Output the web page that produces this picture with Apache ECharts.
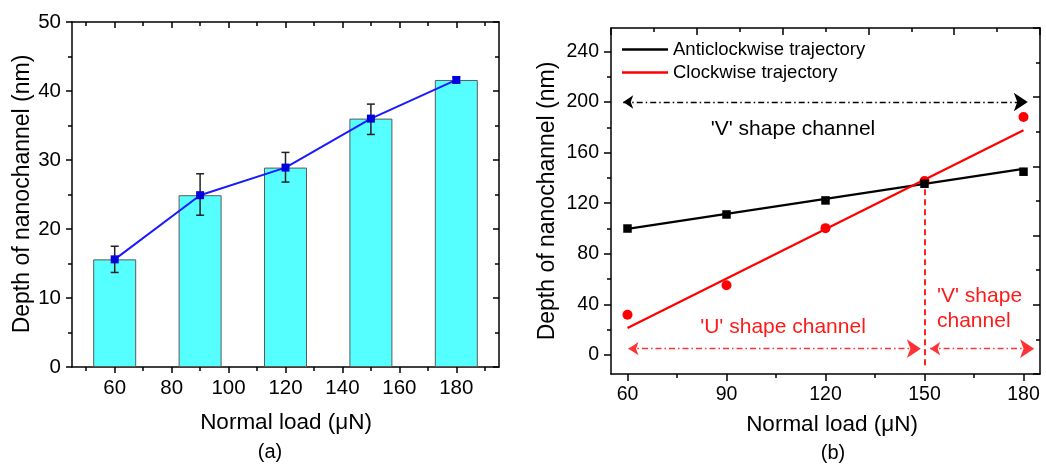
<!DOCTYPE html>
<html>
<head>
<meta charset="utf-8">
<script src="https://cdn.jsdelivr.net/npm/echarts@6/dist/echarts.min.js"></script>
<style>
html,body{margin:0;padding:0;background:#fff;}
#c{width:1046px;height:464px;}
</style>
</head>
<body>
<div id="c"></div>
<script>
// ---------- Panel (a) data ----------
const loadsA = [60, 90, 120, 150, 180];
const depthA = [15.6, 24.9, 28.9, 36.0, 41.6];
const errLowA = [13.7, 22.0, 26.8, 33.7, 41.2];
const errHighA = [17.5, 28.0, 31.1, 38.1, 42.0];
const xMajorA = [60, 80, 100, 120, 140, 160, 180];
const xMinorA = [50, 70, 90, 110, 130, 150, 170, 190];

// ---------- Panel (b) data ----------
const loadsB = [60, 90, 120, 150, 180];
const antiB = [100.0, 111.1, 122.2, 135.4, 144.9];
const clockB = [31.9, 55.1, 100.3, 137.5, 188.1];
const fitX = [60, 180];
const antiFit = [99.7, 147.2];
const clockFit = [21.4, 177.6];
const xMajorB = [60, 90, 120, 150, 180];
const xMinorB = [75, 105, 135, 165];
const yMajorB = [0, 40, 80, 120, 160, 200, 240];
const yMinorB = [20, 60, 100, 140, 180, 220];

// annotation anchors (data coords of panel b)
const vArrowAll = [[58.7, 200], [181.3, 200]];
const uArrowLeft = [[60.3, 5], [148.9, 5]];
const vArrowRight = [[151.7, 5], [183.2, 5]];
const splitLine150 = [[150, 139], [150, -9]];

const FF = "'Liberation Sans', Arial, sans-serif";
const chart = echarts.init(document.getElementById('c'), null, {renderer: 'canvas'});

const lineBlk = {color: '#000', width: 1.5};
function xAx(grid, min, max, pos, ticks, len, inside, showLine, labels, fs, margin) {
  return {
    gridIndex: grid, type: 'value', min: min, max: max, position: pos,
    axisLine: {show: showLine, onZero: false, lineStyle: lineBlk},
    axisTick: {show: true, customValues: ticks, length: len, inside: inside, lineStyle: lineBlk},
    axisLabel: labels ? {show: true, customValues: ticks, fontSize: fs, color: '#000', fontFamily: FF, margin: margin} : {show: false},
    splitLine: {show: false}
  };
}

const option = {
  animation: false,
  backgroundColor: '#fff',
  grid: [
    {left: 72, top: 22, width: 427, height: 345},
    {left: 611, top: 28, width: 429, height: 346}
  ],
  xAxis: [
    xAx(0, 45, 195, 'bottom', xMajorA, 6, false, true, true, 20.5, 11),
    xAx(0, 45, 195, 'bottom', xMinorA, 4, false, false, false),
    xAx(0, 45, 195, 'top', xMajorA, 6, true, true, false),
    xAx(0, 45, 195, 'top', xMinorA, 4, true, false, false),
    xAx(1, 55, 185, 'bottom', xMajorB, 7, false, true, true, 19.5, 11),
    xAx(1, 55, 185, 'bottom', xMinorB, 4, false, false, false),
    {gridIndex: 1, type: 'value', min: 0, max: 10, interval: 2, position: 'top',
     axisLine: {show: true, onZero: false, lineStyle: lineBlk},
     axisTick: {show: true, inside: true, length: 7, lineStyle: lineBlk},
     minorTick: {show: true, splitNumber: 2, length: 4, lineStyle: lineBlk},
     axisLabel: {show: false}, splitLine: {show: false}, minorSplitLine: {show: false}}
  ],
  yAxis: [
    {gridIndex: 0, type: 'value', min: 0, max: 50, interval: 10, position: 'left',
     axisLine: {show: true, onZero: false, lineStyle: lineBlk},
     axisTick: {show: true, length: 6, lineStyle: lineBlk},
     minorTick: {show: true, splitNumber: 2, length: 4, lineStyle: lineBlk},
     axisLabel: {fontSize: 20.5, color: '#000', fontFamily: FF, margin: 11},
     splitLine: {show: false}, minorSplitLine: {show: false}},
    {gridIndex: 0, type: 'value', min: 0, max: 50, interval: 10, position: 'right',
     axisLine: {show: true, onZero: false, lineStyle: lineBlk},
     axisTick: {show: true, inside: true, length: 6, lineStyle: lineBlk},
     minorTick: {show: true, splitNumber: 2, length: 4, lineStyle: lineBlk},
     axisLabel: {show: false}, splitLine: {show: false}, minorSplitLine: {show: false}},
    {gridIndex: 1, type: 'value', min: -15, max: 258.5, position: 'left',
     axisLine: {show: true, onZero: false, lineStyle: lineBlk},
     axisTick: {show: true, customValues: yMajorB, length: 7, lineStyle: lineBlk},
     axisLabel: {show: true, customValues: yMajorB, fontSize: 19.5, color: '#000', fontFamily: FF, margin: 12},
     splitLine: {show: false}},
    {gridIndex: 1, type: 'value', min: -15, max: 258.5, position: 'left',
     axisLine: {show: false, onZero: false},
     axisTick: {show: true, customValues: yMinorB, length: 4, lineStyle: lineBlk},
     axisLabel: {show: false}, splitLine: {show: false}},
    {gridIndex: 1, type: 'value', min: 0, max: 10, interval: 2, position: 'right',
     axisLine: {show: true, onZero: false, lineStyle: lineBlk},
     axisTick: {show: true, inside: true, length: 7, lineStyle: lineBlk},
     minorTick: {show: true, splitNumber: 2, length: 4, lineStyle: lineBlk},
     axisLabel: {show: false}, splitLine: {show: false}, minorSplitLine: {show: false}}
  ],
  legend: {
    orient: 'vertical', left: 617, top: 35, itemWidth: 46, itemHeight: 2.5, itemGap: 4,
    icon: 'rect',
    data: ['Anticlockwise trajectory', 'Clockwise trajectory'],
    textStyle: {fontSize: 18.5, color: '#000', fontFamily: FF},
    selectedMode: false
  },
  series: [
    {type: 'bar', xAxisIndex: 0, yAxisIndex: 0, barWidth: 43, z: 2,
     data: loadsA.map((x, i) => [x, depthA[i]]),
     itemStyle: {color: '#55ffff', borderColor: '#5a5a5a', borderWidth: 1}},
    {type: 'custom', xAxisIndex: 0, yAxisIndex: 0, z: 3,
     data: loadsA.map((x, i) => [x, errLowA[i], errHighA[i]]),
     renderItem: function (params, api) {
       const lo = api.coord([api.value(0), api.value(1)]);
       const hi = api.coord([api.value(0), api.value(2)]);
       const w = 4;
       const st = {stroke: '#222', lineWidth: 1.5};
       return {type: 'group', children: [
         {type: 'line', shape: {x1: lo[0], y1: lo[1], x2: hi[0], y2: hi[1]}, style: st},
         {type: 'line', shape: {x1: lo[0] - w, y1: lo[1], x2: lo[0] + w, y2: lo[1]}, style: st},
         {type: 'line', shape: {x1: hi[0] - w, y1: hi[1], x2: hi[0] + w, y2: hi[1]}, style: st}
       ]};
     }},
    {type: 'line', xAxisIndex: 0, yAxisIndex: 0, z: 4,
     data: loadsA.map((x, i) => [x, depthA[i]]),
     symbol: 'rect', symbolSize: 8,
     itemStyle: {color: '#0000dd'},
     lineStyle: {color: '#1a1aff', width: 2}},

    {name: 'Anticlockwise trajectory', type: 'line', xAxisIndex: 4, yAxisIndex: 2, z: 3,
     data: fitX.map((x, i) => [x, antiFit[i]]), symbol: 'none',
     itemStyle: {color: '#000'}, lineStyle: {color: '#000', width: 2.2}},
    {name: 'Clockwise trajectory', type: 'line', xAxisIndex: 4, yAxisIndex: 2, z: 3,
     data: fitX.map((x, i) => [x, clockFit[i]]), symbol: 'none',
     itemStyle: {color: '#ff0000'}, lineStyle: {color: '#ff0000', width: 2.2}},
    {type: 'scatter', xAxisIndex: 4, yAxisIndex: 2, z: 4,
     data: loadsB.map((x, i) => [x, clockB[i]]), symbol: 'circle', symbolSize: 10,
     itemStyle: {color: '#ff0000', opacity: 1}},
    {type: 'scatter', xAxisIndex: 4, yAxisIndex: 2, z: 5,
     data: loadsB.map((x, i) => [x, antiB[i]]), symbol: 'rect', symbolSize: 8.5,
     itemStyle: {color: '#000', opacity: 1}},
    {type: 'lines', coordinateSystem: 'cartesian2d', xAxisIndex: 4, yAxisIndex: 2, z: 3,
     symbol: ['arrow', 'arrow'], symbolSize: [10, 14],
     lineStyle: {color: '#000', width: 1.3, type: [6, 3, 1.5, 3], opacity: 1},
     data: [{coords: vArrowAll}]},
    {type: 'lines', coordinateSystem: 'cartesian2d', xAxisIndex: 4, yAxisIndex: 2, z: 3,
     symbol: ['arrow', 'arrow'], symbolSize: [10, 14],
     lineStyle: {color: '#ff3333', width: 1.3, type: [6, 3, 1.5, 3], opacity: 1},
     data: [{coords: uArrowLeft}, {coords: vArrowRight}]},
    {type: 'lines', coordinateSystem: 'cartesian2d', xAxisIndex: 4, yAxisIndex: 2, z: 3,
     symbol: ['none', 'none'],
     lineStyle: {color: '#ff2222', width: 2, type: [6, 4], opacity: 1},
     data: [{coords: splitLine150}]}
  ],
  graphic: [
    {type: 'text', x: 23, y: 194, rotation: Math.PI / 2,
     style: {text: 'Depth of nanochannel (nm)', font: '23px ' + FF, fill: '#000', align: 'center', verticalAlign: 'middle'}},
    {type: 'text', x: 286, y: 423,
     style: {text: 'Normal load (μN)', font: '22.5px ' + FF, fill: '#000', align: 'center', verticalAlign: 'middle'}},
    {type: 'text', x: 270, y: 452,
     style: {text: '(a)', font: '20px ' + FF, fill: '#000', align: 'center', verticalAlign: 'middle'}},
    {type: 'text', x: 548, y: 201, rotation: Math.PI / 2,
     style: {text: 'Depth of nanochannel (nm)', font: '23px ' + FF, fill: '#000', align: 'center', verticalAlign: 'middle'}},
    {type: 'text', x: 832, y: 425,
     style: {text: 'Normal load (μN)', font: '22.5px ' + FF, fill: '#000', align: 'center', verticalAlign: 'middle'}},
    {type: 'text', x: 833, y: 453,
     style: {text: '(b)', font: '20px ' + FF, fill: '#000', align: 'center', verticalAlign: 'middle'}},
    {type: 'text', x: 793, y: 129,
     style: {text: "'V' shape channel", font: '21px ' + FF, fill: '#000', align: 'center', verticalAlign: 'middle'}},
    {type: 'text', x: 783, y: 327,
     style: {text: "'U' shape channel", font: '21px ' + FF, fill: '#ff1a1a', align: 'center', verticalAlign: 'middle'}},
    {type: 'text', x: 937, y: 296,
     style: {text: "'V' shape", font: '21px ' + FF, fill: '#ff1a1a', align: 'left', verticalAlign: 'middle'}},
    {type: 'text', x: 937, y: 321,
     style: {text: 'channel', font: '21px ' + FF, fill: '#ff1a1a', align: 'left', verticalAlign: 'middle'}}
  ]
};
chart.setOption(option);
</script>
</body>
</html>
